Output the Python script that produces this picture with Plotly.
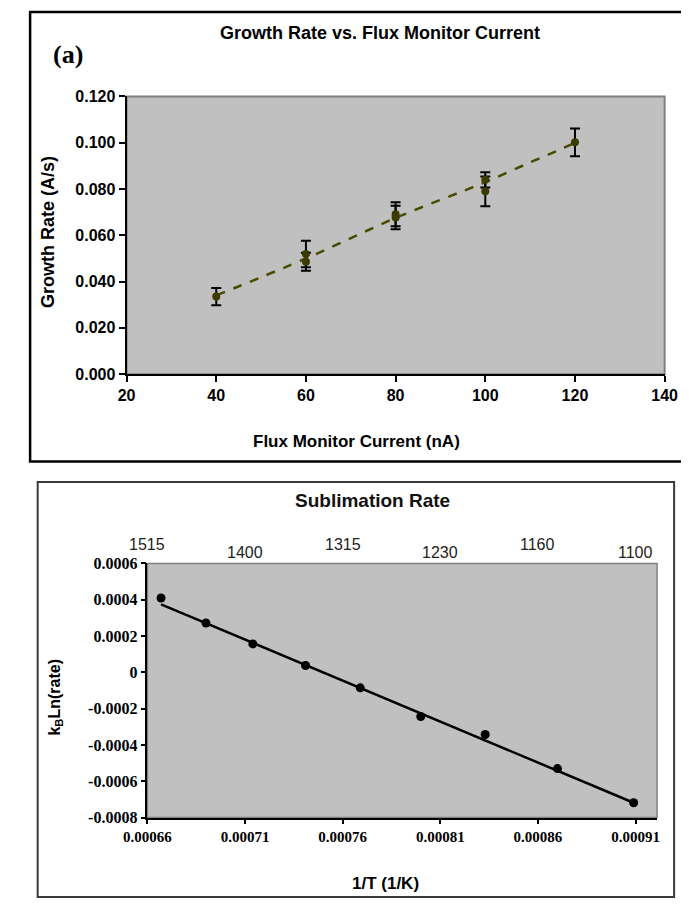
import plotly.graph_objects as go

# page body has an 8px default margin, so the figure is drawn 8px smaller and shifted
PAGE_W, PAGE_H = 689, 911
OFF = 8
W, H = PAGE_W - OFF, PAGE_H - OFF

# ---------------- data: top chart ----------------
flux_current = [40, 60, 60, 80, 80, 100, 100, 120]
growth_rate = [0.0335, 0.0519, 0.0486, 0.0691, 0.0677, 0.0840, 0.0790, 0.1002]
growth_err = [0.0037, 0.0057, 0.0039, 0.0052, 0.0051, 0.0033, 0.0064, 0.0060]
trend_flux = [40, 60, 80, 100, 110, 116, 120]
trend_rate = [0.0340, 0.0500, 0.0675, 0.0830, 0.0915, 0.0965, 0.1000]
top_xticks = [20, 40, 60, 80, 100, 120, 140]
top_yticks = [0.0, 0.02, 0.04, 0.06, 0.08, 0.10, 0.12]

# ---------------- data: bottom chart ----------------
inv_T = [0.000667, 0.000690, 0.000714, 0.000741, 0.000769, 0.000800, 0.000833, 0.000870, 0.000909]
kb_ln_rate = [0.000410, 0.000272, 0.000157, 0.000038, -0.000085, -0.000243, -0.000342, -0.000530, -0.000718]
fit_inv_T = [0.000667, 0.000909]
fit_kb_ln_rate = [0.000375, -0.000718]
bot_xticks = [0.00066, 0.00071, 0.00076, 0.00081, 0.00086, 0.00091]
bot_xticklabels = ["0.00066", "0.00071", "0.00076", "0.00081", "0.00086", "0.00091"]
bot_yticks = [-0.0008, -0.0006, -0.0004, -0.0002, 0.0, 0.0002, 0.0004, 0.0006]
bot_yticklabels = ["-0.0008", "-0.0006", "-0.0004", "-0.0002", "0", "0.0002", "0.0004", "0.0006"]
temp_labels = ["1515", "1400", "1315", "1230", "1160", "1100"]


def px(x):
    return (x - OFF) / W


def py(y):
    return 1 - (y - OFF) / H


SANS = "Liberation Sans, Arial, sans-serif"
NARROW = "Liberation Sans Narrow, Arial Narrow, Liberation Sans, sans-serif"
SERIF = "Liberation Serif, Times New Roman, serif"
OLIVE = "#3c3c00"

fig = go.Figure()

fig.add_trace(go.Scatter(
    x=trend_flux, y=trend_rate, mode="lines",
    line=dict(color="#4a4a00", width=2.5, dash="dash", shape="spline"),
    xaxis="x", yaxis="y", showlegend=False, hoverinfo="skip"))
fig.add_trace(go.Scatter(
    x=flux_current, y=growth_rate, mode="markers",
    marker=dict(color=OLIVE, size=8),
    error_y=dict(type="data", array=growth_err, color="black", thickness=2, width=5),
    xaxis="x", yaxis="y", showlegend=False))

fig.add_trace(go.Scatter(
    x=fit_inv_T, y=fit_kb_ln_rate, mode="lines", line=dict(color="black", width=2.5),
    xaxis="x2", yaxis="y2", showlegend=False, hoverinfo="skip"))
fig.add_trace(go.Scatter(
    x=inv_T, y=kb_ln_rate, mode="markers", marker=dict(color="black", size=9),
    xaxis="x2", yaxis="y2", showlegend=False))

top_x0, top_x1, top_y0, top_y1 = 108, 677, 90, 373
bot_x0, bot_x1, bot_y0, bot_y1 = 130, 669, 566, 825

fig.update_layout(
    width=W, height=H, autosize=False,
    margin=dict(l=0, r=0, t=0, b=0),
    paper_bgcolor="white",
    plot_bgcolor="#c0c0c0",
    xaxis=dict(
        domain=[px(top_x0), px(top_x1)], anchor="y", range=[20, 140],
        tickvals=top_xticks, ticks="outside", ticklen=6, tickwidth=2, tickcolor="black",
        showline=True, linecolor="black", linewidth=2, showgrid=False, zeroline=False,
        tickfont=dict(family=SANS, size=16, color="black", weight="bold"),
    ),
    yaxis=dict(
        domain=[py(top_y1), py(top_y0)], anchor="x", range=[0, 0.12],
        tickvals=top_yticks, tickformat=".3f", ticks="outside", ticklen=6, tickwidth=2, tickcolor="black",
        showline=True, linecolor="black", linewidth=2, showgrid=False, zeroline=False,
        tickfont=dict(family=SANS, size=16, color="black", weight="bold"),
    ),
    xaxis2=dict(
        domain=[px(bot_x0), px(bot_x1)], anchor="y2", range=[0.00066, 0.000921],
        tickvals=bot_xticks, ticktext=bot_xticklabels, ticks="outside", ticklen=5, tickwidth=1.5, tickcolor="black",
        showline=True, linecolor="black", linewidth=1.5, showgrid=False, zeroline=False,
        tickfont=dict(family=SERIF, size=15, color="black", weight="bold"),
    ),
    yaxis2=dict(
        domain=[py(bot_y1), py(bot_y0)], anchor="x2", range=[-0.0008, 0.0006],
        tickvals=bot_yticks, ticktext=bot_yticklabels, ticks="outside", ticklen=5, tickwidth=1.5, tickcolor="black",
        showline=True, linecolor="black", linewidth=1.5, showgrid=False, zeroline=False,
        tickfont=dict(family=SERIF, size=16, color="black", weight="bold"),
    ),
)

shapes = [
    dict(type="rect", xref="paper", yref="paper", x0=px(6), x1=px(730), y0=py(462), y1=py(4),
         line=dict(color="black", width=2.5)),
    dict(type="rect", xref="paper", yref="paper", x0=px(14), x1=px(687), y0=py(906), y1=py(483),
         line=dict(color="#3a3a3a", width=2)),
    dict(type="rect", xref="x domain", yref="y domain", x0=0, x1=1, y0=0, y1=1,
         line=dict(color="#808080", width=2), layer="below"),
    dict(type="rect", xref="x2 domain", yref="y2 domain", x0=0, x1=1, y0=0, y1=1,
         line=dict(color="#808080", width=1.5), layer="below"),
]
fig.update_layout(shapes=shapes)


def label(text, x, y, font, angle=0, xref="paper"):
    return dict(text=text, x=x, y=y, xref=xref, yref="paper", xanchor="center", yanchor="middle",
                textangle=angle, showarrow=False, font=font)


ann = [
    label("Growth Rate vs. Flux Monitor Current", px(376), py(25),
          dict(family=SANS, size=18, color="black", weight="bold")),
    label("(a)", px(46), py(47), dict(family=SERIF, size=26, color="black", weight="bold")),
    label("Growth Rate (A/s)", px(25), py(228), dict(family=SANS, size=18, color="black", weight="bold"), -90),
    label("Flux Monitor Current (nA)", px(351), py(442), dict(family=SANS, size=17, color="black", weight="bold")),
    label("Sublimation Rate", px(368), py(502), dict(family=NARROW, size=19, color="#111111", weight="bold")),
    label("k<sub>B</sub>Ln(rate)", px(33), py(702), dict(family=NARROW, size=16, color="black", weight="bold"), -90),
    label("1/T (1/K)", px(382), py(892), dict(family=NARROW, size=17, color="black", weight="bold")),
]
for i, (xv, lab) in enumerate(zip(bot_xticks, temp_labels)):
    ann.append(label(lab, xv, py(547 if i % 2 == 0 else 555),
                     dict(family=NARROW, size=16, color="#222222"), xref="x2"))
fig.update_layout(annotations=ann)

fig.write_html("out.html")
